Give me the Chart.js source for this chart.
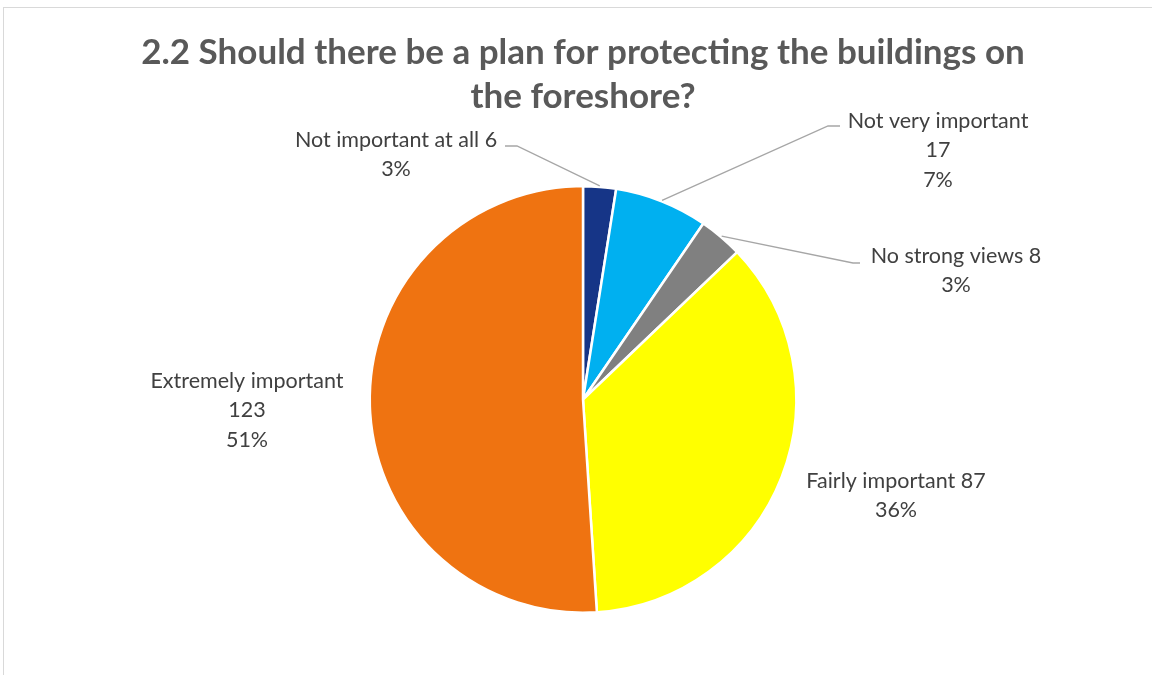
<!doctype html>
<html lang="en">
  <head>
    <meta charset="utf-8">
    <title>2.2 Should there be a plan for protecting the buildings on the foreshore?</title>
    <script src="https://cdn.jsdelivr.net/npm/chart.js"></script>
    <style>
      html, body { margin: 0; padding: 0; background: #fff; }
      #wrap { width: 1152px; height: 675px; position: relative; }
    </style>
  </head>
  <body>
  <div id="wrap">
    <canvas id="myChart"></canvas>
  </div>
  <script>
    // survey answers, clockwise from 12 o'clock
    const categories = ['Not important at all', 'Not very important', 'No strong views', 'Fairly important', 'Extremely important'];
    const counts = [6, 17, 8, 87, 123];
    const percents = ['3%', '7%', '3%', '36%', '51%'];
    const colours = ['#163587', '#00B0F0', '#808080', '#FFFF00', '#EF7311'];
    const titleLines = ['2.2 Should there be a plan for protecting the buildings on', 'the foreshore?'];

    // label text lines for each slice, plus where the text and leader line go
    const labelLines = [
        [categories[0] + ' ' + counts[0], percents[0]],
        [categories[1], String(counts[1]), percents[1]],
        [categories[2] + ' ' + counts[2], percents[2]],
        [categories[3] + ' ' + counts[3], percents[3]],
        [categories[4], String(counts[4]), percents[4]]
    ];
    const labelPos = [[396, 140], [938, 121], [956, 256], [896, 481], [247, 381]];
    // leader: [end of horizontal tick, elbow]; the other end sits on the slice edge
    const leaders = [
        [[505, 146], [517, 146]],
        [[840, 126], [828, 126]],
        [[860, 263], [853, 263]],
        null,
        null
    ];

    const textColour = '#404040';
    const labelFont = '21.5px Lato, Carlito, Calibri, sans-serif';

    const frameAndLabels = {
        id: 'frameAndLabels',
        beforeDraw: (chart) => {
            const c = chart.ctx;
            c.save();
            c.fillStyle = '#fff';
            c.fillRect(0, 0, chart.width, chart.height);
            c.strokeStyle = '#d9d9d9';
            c.lineWidth = 1;
            c.strokeRect(3.5, 7.5, 1200, 700);
            c.restore();
        },
        afterDraw: (chart) => {
            const c = chart.ctx;
            const arcs = chart.getDatasetMeta(0).data;
            c.save();

            // title
            c.fillStyle = '#595959';
            c.font = 'bold 35px Lato, Carlito, Calibri, sans-serif';
            c.textAlign = 'center';
            c.textBaseline = 'middle';
            c.fillText(titleLines[0], 583, 53);
            c.fillText(titleLines[1], 583, 97);

            // leader lines
            c.strokeStyle = '#a6a6a6';
            c.lineWidth = 1.3;
            arcs.forEach((arc, i) => {
                if (!leaders[i]) return;
                const mid = (arc.startAngle + arc.endAngle) / 2;
                const r = arc.outerRadius + 1;
                const ex = arc.x + Math.cos(mid) * r;
                const ey = arc.y + Math.sin(mid) * r;
                c.beginPath();
                c.moveTo(leaders[i][0][0], leaders[i][0][1]);
                c.lineTo(leaders[i][1][0], leaders[i][1][1]);
                c.lineTo(ex, ey);
                c.stroke();
            });

            // slice labels
            c.fillStyle = textColour;
            c.font = labelFont;
            labelLines.forEach((lines, i) => {
                lines.forEach((t, k) => {
                    c.fillText(t, labelPos[i][0], labelPos[i][1] + k * 29.5);
                });
            });
            c.restore();
        }
    };

    const ctx = document.getElementById('myChart');
    const myChart = new Chart(ctx, {
        type: 'pie',
        data: {
            labels: categories,
            datasets: [{
                data: counts,
                backgroundColor: colours,
                borderColor: '#ffffff',
                borderWidth: 2.5
            }]
        },
        plugins: [frameAndLabels],
        options: {
            responsive: true,
            maintainAspectRatio: false,
            animation: false,
            layout: {
                padding: { top: 185, bottom: 61, left: 368, right: 354 }
            },
            plugins: {
                legend: { display: false },
                tooltip: { enabled: false },
                title: { display: false }
            }
        }
    });
  </script>
  </body>
</html>
